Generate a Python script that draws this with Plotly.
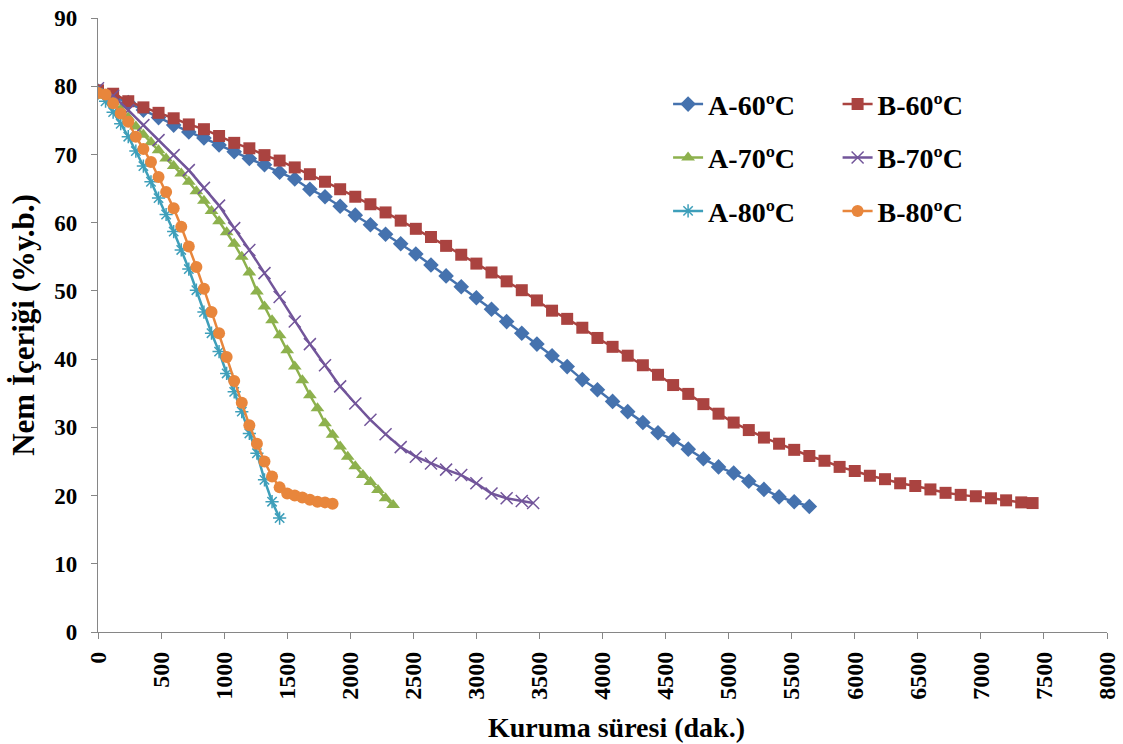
import plotly.graph_objects as go

# ---- data ----
t_a60 = [i * 120 for i in range(48)]
y_a60 = [79.3, 78.5, 77.6, 76.5, 75.4, 74.3, 73.3, 72.4, 71.4, 70.4, 69.4, 68.5,
         67.4, 66.4, 64.9, 63.8, 62.4, 61.1, 59.7, 58.3, 56.9, 55.4, 53.8, 52.2,
         50.6, 49.0, 47.3, 45.5, 43.8, 42.2, 40.5, 38.9, 37.0, 35.5, 33.8, 32.3,
         30.7, 29.2, 28.2, 26.8, 25.4, 24.2, 23.3, 22.1, 20.9, 19.8, 19.1, 18.4]

t_b60 = [i * 120 for i in range(62)] + [7410]
y_b60 = [79.4, 78.9, 77.8, 76.9, 76.1, 75.3, 74.4, 73.7, 72.7, 71.7, 70.9, 69.9,
         69.1, 68.1, 67.1, 66.0, 64.9, 63.8, 62.7, 61.5, 60.3, 59.1, 57.9, 56.6,
         55.3, 54.0, 52.7, 51.4, 50.1, 48.6, 47.1, 45.9, 44.6, 43.1, 41.8, 40.5,
         39.1, 37.7, 36.2, 34.9, 33.4, 32.0, 30.7, 29.6, 28.5, 27.6, 26.7, 25.8,
         25.1, 24.2, 23.6, 22.9, 22.4, 21.8, 21.4, 20.9, 20.4, 20.1, 19.9, 19.6,
         19.3, 19.0, 18.9]

t_a70 = [i * 60 for i in range(40)]
y_a70 = [79.2, 78.6, 77.7, 76.6, 75.4, 74.1, 72.9, 71.8, 70.6, 69.4, 68.3, 67.2,
         66.0, 64.6, 63.2, 61.7, 60.2, 58.6, 56.9, 55.0, 52.7, 49.9, 47.7, 45.7,
         43.5, 41.3, 38.9, 36.9, 34.7, 32.8, 30.6, 28.9, 27.2, 25.7, 24.3, 23.0,
         22.0, 20.8, 19.6, 18.6]

t_b70 = [i * 120 for i in range(29)] + [3450]
y_b70 = [79.7, 78.6, 76.5, 74.3, 72.1, 69.9, 67.7, 65.1, 62.5, 59.2, 56.0, 52.6,
         49.1, 45.5, 42.2, 39.1, 36.0, 33.5, 31.1, 29.0, 27.1, 25.7, 24.7, 23.8,
         23.0, 21.8, 20.3, 19.6, 19.2, 18.9]

t_a80 = [i * 60 for i in range(25)]
y_a80 = [79.0, 77.8, 76.2, 74.5, 72.6, 70.5, 68.3, 66.0, 63.6, 61.2, 58.7, 56.0,
         53.2, 50.1, 46.9, 43.8, 41.1, 37.9, 35.2, 32.3, 29.1, 26.2, 22.3, 19.1,
         16.7]

t_b80 = [i * 60 for i in range(32)]
y_b80 = [79.0, 78.8, 77.5, 76.0, 74.8, 72.6, 70.8, 68.9, 66.7, 64.5, 62.1, 59.4,
         56.5, 53.5, 50.3, 46.9, 43.8, 40.3, 36.8, 33.6, 30.3, 27.6, 25.0, 22.8,
         21.2, 20.3, 20.0, 19.7, 19.4, 19.1, 19.0, 18.8]

x_ticks = list(range(0, 8001, 500))
y_ticks = list(range(0, 91, 10))

FONT = "Times New Roman, Liberation Serif, serif"

series = [
    ("A-60ºC", t_a60, y_a60, "#4572AE", dict(symbol="diamond", size=12), "legend"),
    ("B-60ºC", t_b60, y_b60, "#AA4340", dict(symbol="square", size=12), "legend2"),
    ("A-70ºC", t_a70, y_a70, "#8DB14D", dict(symbol="triangle-up", size=12), "legend"),
    ("B-70ºC", t_b70, y_b70, "#72559A", dict(symbol="x-thin-open", size=12,
                                             line=dict(width=1.5, color="#72559A")), "legend2"),
    ("A-80ºC", t_a80, y_a80, "#3E9FBA", dict(symbol="asterisk-open", size=11,
                                             line=dict(width=1.5, color="#3E9FBA")), "legend"),
    ("B-80ºC", t_b80, y_b80, "#E8863C", dict(symbol="circle", size=12), "legend2"),
]

fig = go.Figure()
for name, xs, ys, col, mk, lg in series:
    mk = dict(mk)
    mk["color"] = col
    fig.add_trace(go.Scatter(
        x=xs, y=ys, name=name, mode="lines+markers",
        line=dict(color=col, width=2.5), marker=mk,
        legend=lg, legendgroup=name,
    ))

legend_common = dict(
    font=dict(family=FONT, size=28, color="black", weight="bold"),
    bgcolor="rgba(0,0,0,0)", tracegroupgap=14, itemwidth=30,
    xanchor="left", yanchor="top", traceorder="grouped",
)

fig.update_layout(
    width=1123, height=744,
    margin=dict(l=98, r=16, t=18, b=112),
    paper_bgcolor="white", plot_bgcolor="white",
    font=dict(family=FONT, color="black"),
    showlegend=True,
    legend=dict(x=0.565, y=0.90, **legend_common),
    legend2=dict(x=0.733, y=0.90, **legend_common),
    xaxis=dict(
        range=[0, 8000], tickvals=x_ticks, ticktext=[str(v) for v in x_ticks],
        tickangle=-90, ticks="outside", ticklen=6, tickcolor="#868686",
        showline=True, linecolor="#868686", linewidth=1.3, showgrid=False, zeroline=False,
        automargin=False, ticklabelstandoff=3, ticklabeloverflow="allow",
        tickfont=dict(family=FONT, size=24, color="black", weight="bold"),
    ),
    yaxis=dict(
        range=[0, 90], tickvals=y_ticks, ticks="outside", ticklen=6, tickcolor="#868686",
        showline=True, linecolor="#868686", linewidth=1.3, showgrid=False, zeroline=False,
        automargin=False, ticklabelstandoff=9, ticklabeloverflow="allow",
        tickfont=dict(family=FONT, size=23, color="black", weight="bold"),
    ),
    annotations=[
        dict(text="<b>Kuruma süresi (dak.)</b>", xref="paper", yref="paper",
             x=0.5134, y=-0.156, xanchor="center", yanchor="middle", showarrow=False,
             font=dict(family=FONT, size=28, color="black")),
        dict(text="<b>Nem İçeriği (%y.b.)</b>", xref="paper", yref="paper",
             x=-0.0745, y=0.5, xanchor="center", yanchor="middle", showarrow=False,
             textangle=-90, font=dict(family=FONT, size=31, color="black")),
    ],
)

fig.write_html(
    "out.html",
    config={"displayModeBar": False},
    post_script="document.body.style.margin='0px';document.body.style.overflow='hidden';",
)
